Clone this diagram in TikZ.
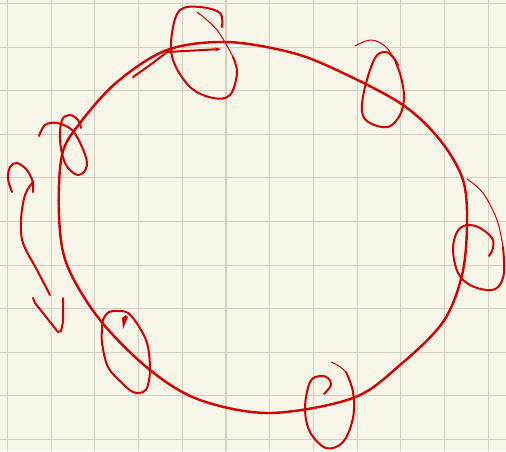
\documentclass[tikz,border=0pt]{standalone}
\usetikzlibrary{arrows.meta}
\definecolor{paper}{RGB}{248,245,233}
\definecolor{gridline}{RGB}{210,207,195}
\definecolor{ink}{RGB}{212,0,0}
\begin{document}
\begin{tikzpicture}[x=1pt,y=-1pt,line cap=round,line join=round,
  main/.style={draw=ink,line width=2.4pt},
  curl/.style={draw=ink,line width=2pt},
  tail/.style={draw=ink,line width=1pt}]
\fill[paper] (0,0) rectangle (506,451);
\useasboundingbox (0,0) rectangle (506,451);
\foreach \i in {0,...,11} \draw[gridline,line width=1.1pt] (7.5+43.7*\i,0) -- (7.5+43.7*\i,451);
\foreach \j in {0,...,10} \draw[gridline,line width=1.1pt] (0,3.5+43.6*\j) -- (506,3.5+43.6*\j);
% the big loop
\draw[main] plot[smooth cycle,tension=0.55] coordinates {(167,50) (227,42) (293,53) (343,73) (403,105) (440,140) (463,180) (467,225) (462,275) (443,322) (400,365) (353,398) (270,413) (200,400) (150,370) (100,320) (67,265) (59,215) (62,155) (80,123) (117,82)};
% arrow along the top
\draw[curl,-{Stealth[length=6pt,width=4pt]}] plot[smooth,tension=0.6] coordinates {(133,77) (150,65) (167,52)} -- (221,49);
% top curl
\draw[curl] plot[smooth,tension=0.6] coordinates {(222,27) (220,13) (200,7) (180,10) (172,33) (173,60) (190,87) (213,98) (230,95) (237,73) (233,57)};
\draw[tail] plot[smooth,tension=0.6] coordinates {(233,57) (217,30) (197,12)};
% top right curl
\draw[tail] plot[smooth,tension=0.6] coordinates {(355,46) (371,40) (386,47) (396,63)};
\draw[curl] plot[smooth,tension=0.6] coordinates {(396,63) (401,77) (404,97) (400,115) (388,127) (370,123) (362,112) (365,87) (375,58) (385,52) (393,57) (398,65)};
% right curl
\draw[tail] plot[smooth,tension=0.6] coordinates {(467,179) (483,193) (497,220) (503,247)};
\draw[curl] plot[smooth,tension=0.6] coordinates {(503,247) (504,273) (498,287) (487,290) (470,285) (458,273) (453,250) (457,232) (467,225) (480,228) (492,238) (493,248) (489,256)};
% bottom curl
\draw[curl] plot[smooth,tension=0.6] coordinates {(324,394) (331,385) (328,378) (320,376) (310,382) (305,408) (310,432) (326,448) (343,442) (353,418) (353,392) (346,372)};
\draw[tail] plot[smooth,tension=0.6] coordinates {(346,372) (339,366) (331,362)};
% bottom left curl
\draw[curl] plot[smooth,tension=0.6] coordinates {(102,333) (103,320) (109,312) (118,311) (128,313) (138,325) (147,343) (150,367) (148,385) (143,392) (133,392) (122,383) (108,367) (102,343) (102,330)};
\fill[ink] (123,329) -- (122,318) -- (126,315) -- (128,317) -- cycle;
% left curl
\draw[curl] plot[smooth,tension=0.6] coordinates {(39,136) (45,125) (57,123) (72,130) (82,147) (87,163) (83,173) (75,174) (65,163) (60,140) (62,120) (70,115) (78,120) (81,128)};
% left arrows
\draw[curl] plot[smooth,tension=0.6] coordinates {(12,192) (8,179) (10,167) (17,163) (27,170) (33,182)} -- (33,192);
\draw[curl] plot[smooth,tension=0.6] coordinates {(33,182) (25,195) (21,220) (23,243) (37,270) (50,295)};
\draw[curl] (33,298) -- (35,303) -- (58,332) -- (61,331) -- (63,322) -- (63,298);
\end{tikzpicture}
\end{document}
